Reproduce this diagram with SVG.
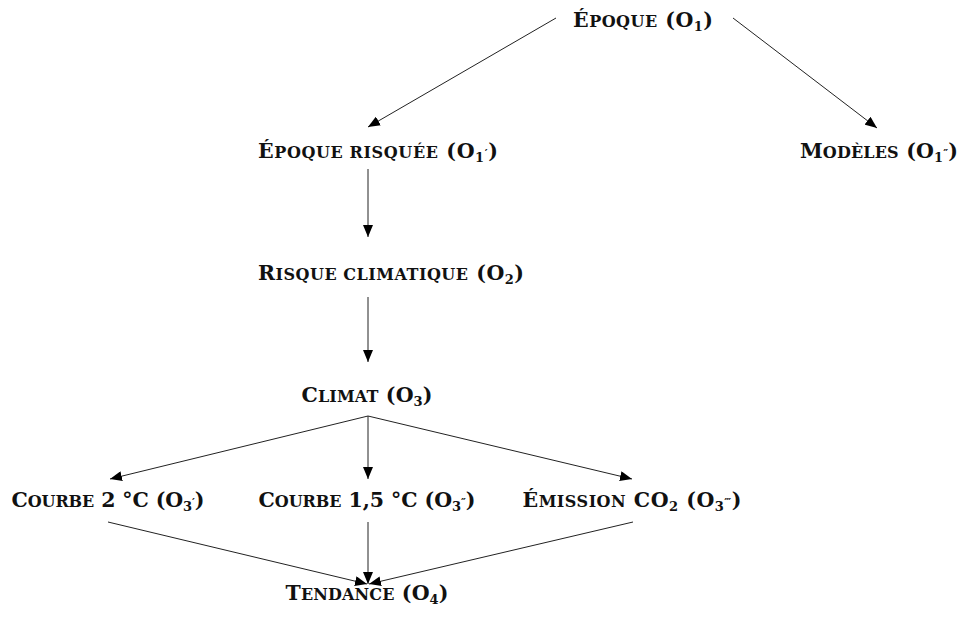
<svg xmlns="http://www.w3.org/2000/svg" width="960" height="620" viewBox="0 0 960 620">
  <style>
    .lbl { font-family: "DejaVu Serif", "Liberation Serif", serif; font-weight: bold; font-size: 20.5px; fill: #111; text-anchor: middle; }
    .sc { font-size: 16px; }
    .sub { font-size: 13px; }
    .pr { font-size: 11px; }
    .edge { stroke: #222; stroke-width: 1; fill: none; marker-end: url(#arrow); }
  </style>
  <defs>
    <marker id="arrow" viewBox="0 0 12 10" refX="12" refY="5" markerWidth="12" markerHeight="10" markerUnits="userSpaceOnUse" orient="auto">
      <path d="M0,0 L12,5 L0,10 Z" fill="#000"/>
    </marker>
  </defs>
  <rect width="960" height="620" fill="#fff"/>

  <g id="connectors">
    <line class="edge" x1="556" y1="18" x2="368" y2="127"/>
    <line class="edge" x1="733" y1="18" x2="877" y2="128"/>
    <line class="edge" x1="368" y1="169" x2="368" y2="237"/>
    <line class="edge" x1="368" y1="297" x2="368" y2="362"/>
    <line class="edge" x1="368" y1="416" x2="110" y2="479"/>
    <line class="edge" x1="368" y1="416" x2="368" y2="479"/>
    <line class="edge" x1="368" y1="416" x2="632" y2="479"/>
    <line class="edge" x1="108" y1="522" x2="367" y2="584"/>
    <line class="edge" x1="368" y1="522" x2="368" y2="584"/>
    <line class="edge" x1="633" y1="522" x2="369" y2="584"/>
  </g>

  <g id="n-epoque">
    <text class="lbl" x="643" y="27" textLength="140">É<tspan class="sc">POQUE</tspan> (O<tspan class="sub" dy="4">1</tspan><tspan dy="-4">)</tspan></text>
  </g>
  <g id="n-epoque-risquee">
    <text class="lbl" x="378" y="158" textLength="240">É<tspan class="sc">POQUE RISQUÉE</tspan> (O<tspan class="sub" dy="4">1</tspan><tspan class="pr" dy="-5">′</tspan><tspan dy="1">)</tspan></text>
  </g>
  <g id="n-modeles">
    <text class="lbl" x="879" y="158" textLength="158">M<tspan class="sc">ODÈLES</tspan> (O<tspan class="sub" dy="4">1</tspan><tspan class="pr" dy="-5">″</tspan><tspan dy="1">)</tspan></text>
  </g>
  <g id="n-risque">
    <text class="lbl" x="391" y="280" textLength="266">R<tspan class="sc">ISQUE CLIMATIQUE</tspan> (O<tspan class="sub" dy="4">2</tspan><tspan dy="-4">)</tspan></text>
  </g>
  <g id="n-climat">
    <text class="lbl" x="367" y="402" textLength="131">C<tspan class="sc">LIMAT</tspan> (O<tspan class="sub" dy="4">3</tspan><tspan dy="-4">)</tspan></text>
  </g>
  <g id="n-courbe2">
    <text class="lbl" x="108" y="507" textLength="193">C<tspan class="sc">OURBE</tspan> 2 °C (O<tspan class="sub" dy="4">3</tspan><tspan class="pr" dy="-5">′</tspan><tspan dy="1">)</tspan></text>
  </g>
  <g id="n-courbe15">
    <text class="lbl" x="367" y="507" textLength="217">C<tspan class="sc">OURBE</tspan> 1,5 °C (O<tspan class="sub" dy="4">3</tspan><tspan class="pr" dy="-5">″</tspan><tspan dy="1">)</tspan></text>
  </g>
  <g id="n-emission">
    <text class="lbl" x="632" y="507" textLength="219">É<tspan class="sc">MISSION</tspan> CO<tspan class="sub" dy="4">2</tspan><tspan dy="-4"> (O</tspan><tspan class="sub" dy="4">3</tspan><tspan class="pr" dy="-5">‴</tspan><tspan dy="1">)</tspan></text>
  </g>
  <g id="n-tendance">
    <text class="lbl" x="367" y="600" textLength="163">T<tspan class="sc">ENDANCE</tspan> (O<tspan class="sub" dy="4">4</tspan><tspan dy="-4">)</tspan></text>
  </g>
</svg>
